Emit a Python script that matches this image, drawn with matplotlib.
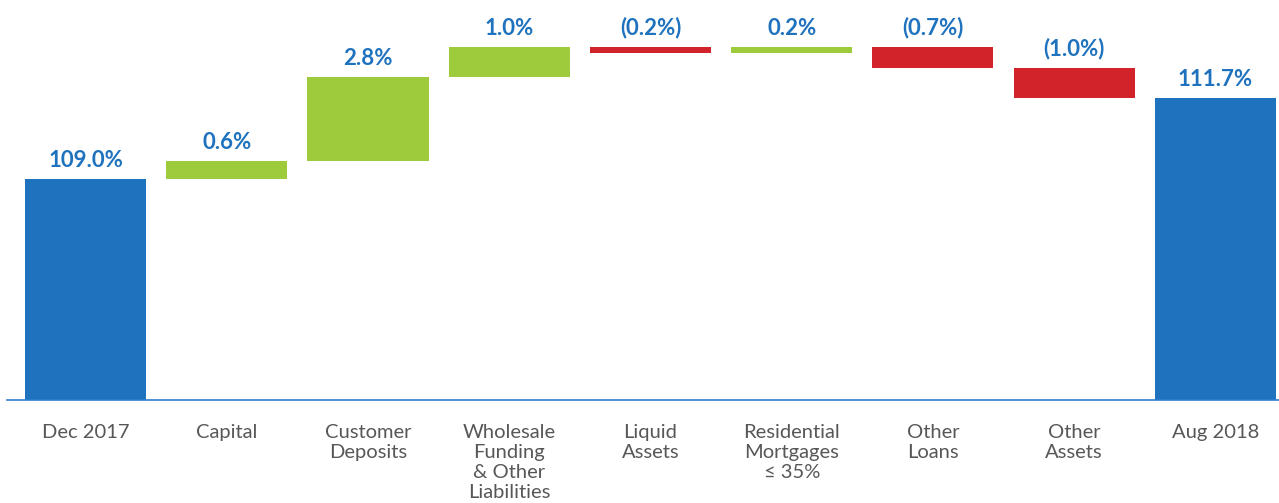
import numpy as np
import matplotlib.pyplot as plt

categories = ["Dec 2017", "Capital", "Customer\nDeposits", "Wholesale\nFunding\n& Other\nLiabilities",
              "Liquid\nAssets", "Residential\nMortgages\n≤ 35%", "Other\nLoans", "Other\nAssets", "Aug 2018"]
start_value = 109.0
changes = [0.6, 2.8, 1.0, -0.2, 0.2, -0.7, -1.0]
end_value = 111.7

blue = "#1f72bd"
green = "#9dcb3b"
red = "#d3232a"

# waterfall bottoms/heights
levels = np.cumsum([start_value] + changes)
bottoms = [0]
heights = [start_value]
colors = [blue]
labels = ["%.1f%%" % start_value]
for i, c in enumerate(changes):
    prev = levels[i]
    bottoms.append(min(prev, prev + c))
    heights.append(abs(c))
    colors.append(green if c >= 0 else red)
    labels.append("%.1f%%" % c if c >= 0 else "(%.1f%%)" % abs(c))
bottoms.append(0)
heights.append(end_value)
colors.append(blue)
labels.append("%.1f%%" % end_value)

x = np.arange(len(categories))

fig = plt.figure(figsize=(12.79, 5.03), dpi=100)
ax = fig.add_axes([7 / 1279, 103 / 503, 1 - 7 / 1279, 400 / 503])

ax.bar(x, heights, bottom=bottoms, width=0.857, color=colors)

for xi, b, h, lab in zip(x, bottoms, heights, labels):
    ax.annotate(lab, (xi, b + h), xytext=(0, 6), textcoords="offset points",
                ha="center", va="bottom", color=blue, fontsize=16,
                fontweight="bold", family=["Lato", "DejaVu Sans"])

ax.set_ylim(101.63, 114.97)
ax.set_xlim(-0.556, 8.45)

ax.set_xticks(x, categories)
ax.tick_params(axis="x", length=0, pad=17, labelsize=14.5, labelcolor="#575757")
for t in ax.get_xticklabels():
    t.set_linespacing(1.22)
    t.set_family(["Lato", "DejaVu Sans"])
    t.set_fontweight("normal")
ax.set_yticks([])
for s in ["top", "left", "right"]:
    ax.spines[s].set_visible(False)
ax.spines["bottom"].set_color("#2b7fd0")
ax.spines["bottom"].set_linewidth(1.2)

fig.savefig("out.png", dpi=100)
